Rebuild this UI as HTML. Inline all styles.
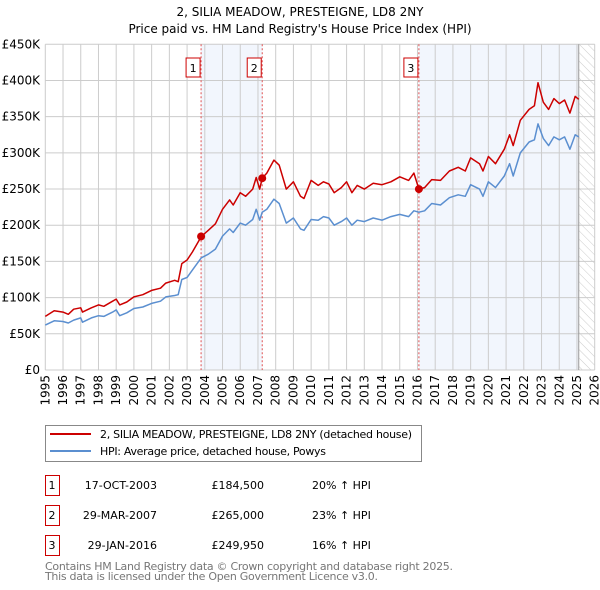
<!DOCTYPE html>
<html><head><meta charset="utf-8"><style>
body{margin:0;background:#fff;}
svg{display:block;font-family:"DejaVu Sans","Liberation Sans",sans-serif;}
</style></head><body>
<svg id="c" width="600" height="590" viewBox="0 0 600 590">
<defs>
<pattern id="hatch" width="6" height="6" patternUnits="userSpaceOnUse" patternTransform="rotate(-45)">
<line x1="0" y1="0" x2="0" y2="6" stroke="#ccc" stroke-width="1"/>
</pattern>
</defs>
<text x="300" y="16" text-anchor="middle" font-size="12" fill="#000">2, SILIA MEADOW, PRESTEIGNE, LD8 2NY</text>
<text x="300" y="33" text-anchor="middle" font-size="12" fill="#000">Price paid vs. HM Land Registry's House Price Index (HPI)</text>
<g id="plot"></g>
<g>
<rect x="45.5" y="425.5" width="376" height="36" fill="#fff" stroke="#888"/>
<line x1="50" y1="434" x2="91" y2="434" stroke="#cc0000" stroke-width="2"/>
<text x="100" y="438" font-size="11" textLength="312">2, SILIA MEADOW, PRESTEIGNE, LD8 2NY (detached house)</text>
<line x1="50" y1="451" x2="91" y2="451" stroke="#5b8fd0" stroke-width="2"/>
<text x="100" y="455" font-size="11" textLength="226">HPI: Average price, detached house, Powys</text>
</g>
<g id="tbl"></g>
<text x="45" y="570" font-size="11" fill="#777" textLength="408">Contains HM Land Registry data © Crown copyright and database right 2025.</text>
<text x="45" y="580" font-size="11" fill="#777" textLength="333">This data is licensed under the Open Government Licence v3.0.</text>
</svg>
<script>
const dates=[1995.0,1995.5,1996.0,1996.3,1996.6,1997.0,1997.1,1997.6,1998.0,1998.3,1998.8,1999.0,1999.2,1999.6,2000.0,2000.5,2001.0,2001.5,2001.8,2002.3,2002.5,2002.7,2003.0,2003.3,2003.8,2004.2,2004.6,2005.0,2005.4,2005.6,2006.0,2006.3,2006.7,2006.9,2007.1,2007.24,2007.5,2007.9,2008.2,2008.6,2009.0,2009.4,2009.6,2010.0,2010.4,2010.7,2011.0,2011.3,2011.7,2012.0,2012.3,2012.6,2013.0,2013.5,2014.0,2014.5,2015.0,2015.5,2015.8,2016.08,2016.4,2016.8,2017.3,2017.8,2018.3,2018.7,2019.0,2019.5,2019.7,2020.0,2020.4,2020.9,2021.2,2021.4,2021.8,2022.3,2022.6,2022.8,2023.1,2023.4,2023.7,2024.0,2024.3,2024.6,2024.9,2025.1];
const hpiValues=[62,68,67,65,69,72,66,72,75,74,80,83,75,79,85,87,92,95,101,103,104,125,128,138,155,160,167,185,195,190,203,200,208,222,207,218,222,236,230,203,210,195,193,208,207,212,210,200,205,210,200,207,205,210,207,212,215,212,220,218,220,230,228,238,242,240,256,250,240,260,252,268,285,268,300,315,318,340,320,310,322,318,322,305,325,322];
const priceValues=[74,82,80,77,84,86,80,86,90,88,95,98,90,94,101,104,110,113,120,124,122,147,152,163,184.5,193,202,222,235,228,245,240,250,266,250,265,272,290,283,250,260,240,237,262,255,260,257,245,252,260,245,255,250,258,256,260,267,262,272,249.95,252,263,262,275,280,275,293,285,275,295,285,305,325,310,345,360,365,397,370,360,375,368,373,355,378,374];
const saleDates=[2003.79,2007.24,2016.08];
const salePrices=[184.5,265,249.95];
const saleLabels=["1","2","3"];
const saleDateText=["17-OCT-2003","29-MAR-2007","29-JAN-2016"];
const salePriceText=["£184,500","£265,000","£249,950"];
const saleHpiText=["20% ↑ HPI","23% ↑ HPI","16% ↑ HPI"];
const yTicks=[0,50,100,150,200,250,300,350,400,450];
const yTickLabels=["£0","£50K","£100K","£150K","£200K","£250K","£300K","£350K","£400K","£450K"];
const xTicks=[];for(let y=1995;y<=2026;y++)xTicks.push(y);
const dataEnd=2025.1;

const X0=45.3,X1=594.7,Y0=370,Y1=44.3;
const xs=v=>X0+(v-1995)/(2026-1995)*(X1-X0);
const ys=v=>Y0-v/450*(Y0-Y1);
const NS="http://www.w3.org/2000/svg";
const plot=document.getElementById('plot');
function mk(tag,attrs,parent){const e=document.createElementNS(NS,tag);for(const k in attrs)e.setAttribute(k,attrs[k]);(parent||plot).appendChild(e);return e;}

let b=mk('rect',{x:xs(saleDates[0]),y:Y1,width:xs(saleDates[1])-xs(saleDates[0]),height:Y0-Y1,fill:'#f2f6fd'});


b=mk('rect',{x:xs(saleDates[2]),y:Y1,width:xs(dataEnd)-xs(saleDates[2]),height:Y0-Y1,fill:'#f2f6fd'});


b=mk('rect',{x:xs(dataEnd),y:Y1,width:X1-xs(dataEnd),height:Y0-Y1,fill:'url(#hatch)'});



xTicks.forEach(t=>{const l=mk('line',{x1:xs(t),x2:xs(t),y1:Y1,y2:Y0,stroke:'#ccc','stroke-width':1});


const tx=mk('text',{x:0,y:0,'font-size':12,'text-anchor':'end',transform:`translate(${xs(t)+4},${Y0+5}) rotate(-90)`});tx.textContent=t;

});
yTicks.forEach((t,i)=>{const l=mk('line',{x1:X0,x2:X1,y1:ys(t),y2:ys(t),stroke:'#ccc','stroke-width':1});


const tx=mk('text',{x:40,y:ys(t)+4,'font-size':12,'text-anchor':'end'});tx.textContent=yTickLabels[i];

});
let nl=mk('line',{x1:xs(dataEnd),x2:xs(dataEnd),y1:Y1,y2:Y0,stroke:'#999','stroke-width':1});



saleDates.forEach((d,i)=>{const l=mk('line',{x1:xs(d),x2:xs(d),y1:Y1,y2:Y0,stroke:'#e05050','stroke-width':1,'stroke-dasharray':'2,2'});


const r=mk('rect',{x:xs(d)-15,y:58,width:14,height:19,fill:'#fff',stroke:'#cc0000'});


const t=mk('text',{x:xs(d)-8,y:72,'font-size':11,'text-anchor':'middle'});t.textContent=saleLabels[i];

});

const pts=a=>dates.map((d,i)=>xs(d).toFixed(1)+','+ys(a[i]).toFixed(1)).join(' ');
let p=mk('polyline',{points:pts(hpiValues),fill:'none',stroke:'#5b8fd0','stroke-width':1.5,'stroke-linejoin':'round'});


p=mk('polyline',{points:pts(priceValues),fill:'none',stroke:'#cc0000','stroke-width':1.5,'stroke-linejoin':'round'});


saleDates.forEach((d,i)=>{const c=mk('circle',{cx:xs(d),cy:ys(salePrices[i]),r:4,fill:'#cc0000'});

});

const tbl=document.getElementById('tbl');
saleLabels.forEach((s,i)=>{const y=475+i*30;
const r=mk('rect',{x:45.5,y:y+0.5,width:14,height:20,fill:'#fff',stroke:'#cc0000'},tbl);


const cells=[[52,'middle',s],[157,'end',saleDateText[i]],[264,'end',salePriceText[i]],[312,'start',saleHpiText[i]]];
cells.forEach(c=>{const t=mk('text',{x:c[0],y:y+14,'font-size':11,'text-anchor':c[1]},tbl);t.textContent=c[2];

});});
</script>
</body></html>
